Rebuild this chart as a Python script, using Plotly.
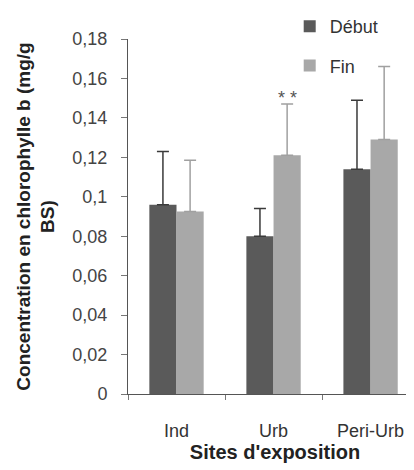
import plotly.graph_objects as go

sites = ["Ind", "Urb", "Peri-Urb"]
debut = [0.096, 0.080, 0.114]
debut_err = [0.027, 0.014, 0.035]
fin = [0.0925, 0.121, 0.129]
fin_err = [0.026, 0.026, 0.037]
ytick_vals = [0, 0.02, 0.04, 0.06, 0.08, 0.1, 0.12, 0.14, 0.16, 0.18]
ytick_text = ["0", "0,02", "0,04", "0,06", "0,08", "0,1", "0,12", "0,14", "0,16", "0,18"]

font = "Liberation Sans, Arial, sans-serif"

fig = go.Figure()
fig.add_trace(go.Bar(
    x=sites, y=debut, name="Début", legendgroup="a",
    marker=dict(color="#5a5a5a", line=dict(width=0)),
    error_y=dict(type="data", array=debut_err, arrayminus=[0, 0, 0], symmetric=False,
                 color="#3a3a3a", thickness=1.5, width=6),
))
fig.add_trace(go.Bar(
    x=sites, y=fin, name="Fin", legendgroup="b",
    marker=dict(color="#a8a8a8", line=dict(width=0)),
    error_y=dict(type="data", array=fin_err, arrayminus=[0, 0, 0], symmetric=False,
                 color="#a0a0a0", thickness=1.5, width=6),
))

# significance marker above Urb / Fin
fig.add_annotation(
    x=sites[1], y=fin[1] + fin_err[1], text="* *", showarrow=False,
    xshift=14, yshift=-6, yanchor="bottom",
    font=dict(family=font, size=18, color="#555555"),
)

# the page body adds an 8px margin, so the figure is offset accordingly
fig.update_layout(
    width=414, height=470,
    margin=dict(l=120, r=0, t=24, b=84),
    paper_bgcolor="white", plot_bgcolor="white",
    barmode="group", bargap=0.44, bargroupgap=0,
    font=dict(family=font, color="#333333"),
    showlegend=True,
    legend=dict(
        x=0.55, y=1.088, xanchor="left", yanchor="top",
        font=dict(family=font, size=18, color="#333333"),
        tracegroupgap=13, itemwidth=30, bgcolor="rgba(0,0,0,0)",
    ),
    xaxis=dict(
        range=[-0.5, 2.53], showline=True, linecolor="#555555", linewidth=1,
        ticks="outside", tickson="boundaries", ticklen=5, tickcolor="#777777",
        ticklabelstandoff=20, automargin=False,
        tickfont=dict(family=font, size=18, color="#333333"),
        showgrid=False, zeroline=False,
        title=dict(text="<b>Sites d'exposition</b>", standoff=4,
                   font=dict(family=font, size=20, color="#222222")),
    ),
    yaxis=dict(
        range=[0, 0.18], tickvals=ytick_vals, ticktext=ytick_text,
        showline=True, linecolor="#555555", linewidth=1,
        ticks="outside", ticklen=6, tickcolor="#777777",
        ticklabelstandoff=10, automargin=False,
        tickfont=dict(family=font, size=18, color="#444444"),
        showgrid=False, zeroline=False,
        title=dict(text="<b>Concentration en chlorophylle b (mg/g<br>BS)</b>", standoff=12,
                   font=dict(family=font, size=19, color="#222222")),
    ),
)

fig.write_html("out.html")
